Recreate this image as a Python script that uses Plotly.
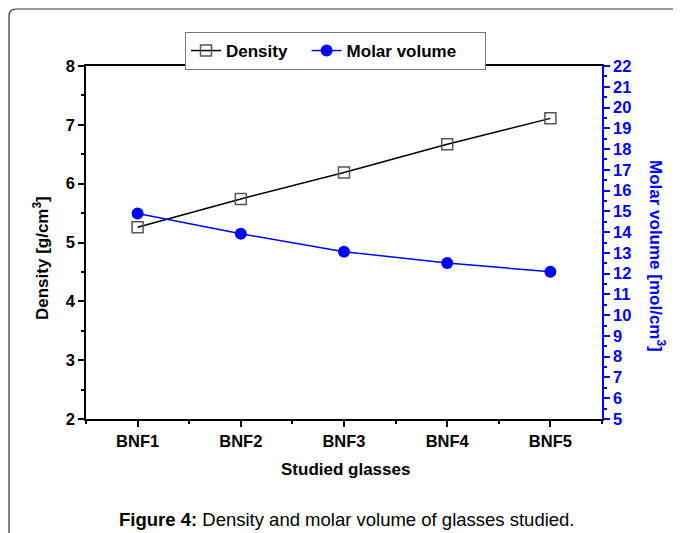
import plotly.graph_objects as go

categories = ["BNF1", "BNF2", "BNF3", "BNF4", "BNF5"]
positions = [1, 2, 3, 4, 5]
density = [5.26, 5.74, 6.19, 6.67, 7.11]
molar_volume = [14.90, 13.92, 13.06, 12.51, 12.09]

FONT = "Liberation Sans, Arial, sans-serif"
BLUE = "#0000ff"
NB = "\u00a0"

fig = go.Figure()
fig.add_trace(go.Scatter(
    x=positions, y=density, name="Density" + NB * 3, mode="lines+markers",
    line=dict(color="black", width=1.5),
    marker=dict(symbol="square-open", size=11, color="#555555", line=dict(width=1.5)),
))
fig.add_trace(go.Scatter(
    x=positions, y=molar_volume, name="Molar volume" + NB * 5, mode="lines+markers",
    yaxis="y2",
    line=dict(color=BLUE, width=1.5),
    marker=dict(symbol="circle", size=12, color=BLUE),
))

# page has an 8px body margin; work in page pixel coordinates
OFF = 8
W, H = 681 - OFF, 533 - OFF
L, R, T, B = 86, 602, 66, 419  # plot area in page pixels
pw, ph = R - L, B - T

def px(x):
    return (x - L) / pw

def py(y):
    return (B - y) / ph

fig.update_layout(
    width=W, height=H,
    margin=dict(l=L - OFF, r=W - (R - OFF), t=T - OFF, b=H - (B - OFF), autoexpand=False),
    paper_bgcolor="white", plot_bgcolor="white",
    font=dict(family=FONT, size=16, color="black"),
    showlegend=True,
    legend=dict(
        orientation="h", x=px(185), xanchor="left", y=py(32), yanchor="top",
        bordercolor="#777777", borderwidth=1,
        font=dict(family=FONT, size=17, color="black", weight="bold"),
        tracegroupgap=0,
    ),
    xaxis=dict(
        range=[0.5, 5.5], tickvals=positions, ticktext=categories,
        showline=True, linecolor="black", linewidth=1.5, mirror=True,
        ticks="outside", ticklen=6, tickwidth=1.5, tickcolor="black",
        minor=dict(tickvals=[0.5, 1.5, 2.5, 3.5, 4.5, 5.5], ticks="outside",
                   ticklen=3, tickwidth=1.5, tickcolor="black"),
        showgrid=False, zeroline=False,
        tickfont=dict(family=FONT, size=16.5, color="black", weight="bold"),
    ),
    yaxis=dict(
        range=[2, 8], dtick=1, tick0=2,
        showline=True, linecolor="black", linewidth=1.5,
        ticks="outside", ticklen=6, tickwidth=1.5, tickcolor="black",
        minor=dict(dtick=0.5, tick0=2, ticks="outside", ticklen=3,
                   tickwidth=1.5, tickcolor="black"),
        showgrid=False, zeroline=False,
        tickfont=dict(family=FONT, size=16.5, color="black", weight="bold"),
    ),
    yaxis2=dict(
        range=[5, 22], dtick=1, tick0=5, overlaying="y", side="right",
        showline=True, linecolor=BLUE, linewidth=1.5,
        ticks="outside", ticklen=6, tickwidth=1.5, tickcolor=BLUE,
        minor=dict(dtick=0.5, tick0=5, ticks="outside", ticklen=3,
                   tickwidth=1.5, tickcolor=BLUE),
        showgrid=False, zeroline=False,
        tickfont=dict(family=FONT, size=16.5, color=BLUE, weight="bold"),
    ),
    annotations=[
        dict(text="Density [g/cm<sup>3</sup>]", xref="paper", yref="paper",
             x=px(41), y=py(258), textangle=-90, showarrow=False,
             xanchor="center", yanchor="middle",
             font=dict(family=FONT, size=17, color="black", weight="bold")),
        dict(text="Molar volume [mol/cm<sup>3</sup>]", xref="paper", yref="paper",
             x=px(657), y=py(256), textangle=90, showarrow=False,
             xanchor="center", yanchor="middle",
             font=dict(family=FONT, size=17, color=BLUE, weight="bold")),
        dict(text="Studied glasses", xref="paper", yref="paper",
             x=px(345), y=py(469), showarrow=False,
             xanchor="center", yanchor="middle",
             font=dict(family=FONT, size=17, color="black", weight="bold")),
        dict(text="<b>Figure 4:</b> Density and molar volume of glasses studied.",
             xref="paper", yref="paper", x=px(347), y=py(519), showarrow=False,
             xanchor="center", yanchor="middle",
             font=dict(family=FONT, size=18.5, color="black")),
    ],
)

# outer rounded frame (extends past the right and bottom edges)
x0, y0 = px(9), py(9)
rx, ry = 7 / pw, 7 / ph
path = (f"M {x0},{py(560)} L {x0},{y0 - ry} Q {x0},{y0} {x0 + rx},{y0} "
        f"L {px(720)},{y0}")
fig.add_shape(type="path", path=path, xref="paper", yref="paper",
              line=dict(color="#333333", width=1.2), layer="below")

fig.write_html("out.html")
